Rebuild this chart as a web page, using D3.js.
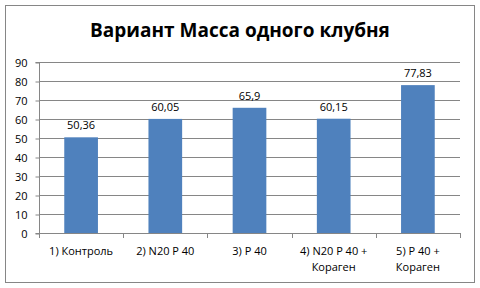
<!DOCTYPE html>
<html>
<head>
<meta charset="utf-8">
<script src="https://cdn.jsdelivr.net/npm/d3@7"></script>
<style>
body { margin: 0; background: #fff; }
text { font-family: "Open Sans", sans-serif; fill: #000; }
</style>
</head>
<body>
<div class="chart"></div>
<script>
var categories = [["1) Контроль"], ["2) N20 P 40"], ["3) P 40"], ["4) N20 P 40 +", "Кораген"], ["5) P 40 +", "Кораген"]];
var values = [50.36, 60.05, 65.9, 60.15, 77.83];
var valueLabels = ["50,36", "60,05", "65,9", "60,15", "77,83"];
var yTicks = [0, 10, 20, 30, 40, 50, 60, 70, 80, 90];
var title = "Вариант Масса одного клубня";

var WIDTH = 480, HEIGHT = 288;
var plot = {left: 39, right: 460, top: 62, bottom: 233};

var svg = d3.select('.chart').append('svg')
	.attr('width', WIDTH)
	.attr('height', HEIGHT);

svg.append('rect')
	.attr('x', 5.5).attr('y', 5.5)
	.attr('width', 469).attr('height', 277)
	.attr('fill', '#fff')
	.attr('stroke', '#868686');

svg.append('text')
	.attr('x', 240).attr('y', 37)
	.attr('text-anchor', 'middle')
	.style('font-size', '19px')
	.style('font-weight', 'bold')
	.text(title);

var x = d3.scaleBand()
	.domain(d3.range(categories.length))
	.range([plot.left, plot.right])
	.paddingInner(0.6)
	.paddingOuter(0.3);

var y = d3.scaleLinear()
	.domain([0, 90])
	.range([plot.bottom, plot.top]);

// gridlines
svg.append('g').selectAll('line').data(yTicks.slice(1))
	.enter().append('line')
	.attr('x1', plot.left).attr('x2', plot.right)
	.attr('y1', function(d) { return Math.round(y(d)) + 0.5; })
	.attr('y2', function(d) { return Math.round(y(d)) + 0.5; })
	.attr('stroke', '#868686');

// bars
svg.append('g').selectAll('rect').data(values)
	.enter().append('rect')
	.attr('x', function(d, i) { return x(i); })
	.attr('y', function(d) { return y(d); })
	.attr('width', x.bandwidth())
	.attr('height', function(d) { return plot.bottom - y(d); })
	.attr('fill', '#4f81bd');

// value labels
svg.append('g').selectAll('text').data(values)
	.enter().append('text')
	.attr('x', function(d, i) { return x(i) + x.bandwidth() / 2; })
	.attr('y', function(d) { return y(d) - 8; })
	.attr('text-anchor', 'middle')
	.style('font-size', '11px')
	.text(function(d, i) { return valueLabels[i]; });

// y axis
var yAxis = d3.axisLeft(y).tickValues(yTicks).tickSize(4).tickPadding(8)
	.tickFormat(function(d) { return d; });
var gy = svg.append('g').attr('transform', 'translate(' + (plot.left + 0.5) + ',0.5)').call(yAxis);
gy.selectAll('path, line').attr('stroke', '#868686');
gy.select('.domain').attr('d', 'M-4,' + plot.top + 'H0V' + plot.bottom + 'H-4');
gy.selectAll('text').style('font-size', '11px').style('font-family', '"Open Sans", sans-serif').attr('fill', '#000');

// x axis line and ticks
var boundaries = d3.range(categories.length + 1).map(function(i) { return plot.left + i * (plot.right - plot.left) / categories.length; });
var gx = svg.append('g');
gx.append('line')
	.attr('x1', plot.left).attr('x2', plot.right)
	.attr('y1', plot.bottom + 0.5).attr('y2', plot.bottom + 0.5)
	.attr('stroke', '#868686');
gx.selectAll('line.tick').data(boundaries)
	.enter().append('line')
	.attr('class', 'tick')
	.attr('x1', function(d) { return Math.round(d) + 0.5; })
	.attr('x2', function(d) { return Math.round(d) + 0.5; })
	.attr('y1', plot.bottom).attr('y2', plot.bottom + 5)
	.attr('stroke', '#868686');

var labels = gx.selectAll('text').data(categories)
	.enter().append('text')
	.attr('text-anchor', 'middle')
	.attr('x', function(d, i) { return x(i) + x.bandwidth() / 2; })
	.attr('y', 255)
	.style('font-size', '11px');
labels.selectAll('tspan').data(function(d) { return d; })
	.enter().append('tspan')
	.attr('x', function() { return d3.select(this.parentNode).attr('x'); })
	.attr('dy', function(d, i) { return i === 0 ? 0 : 16; })
	.text(function(d) { return d; });
</script>
</body>
</html>
